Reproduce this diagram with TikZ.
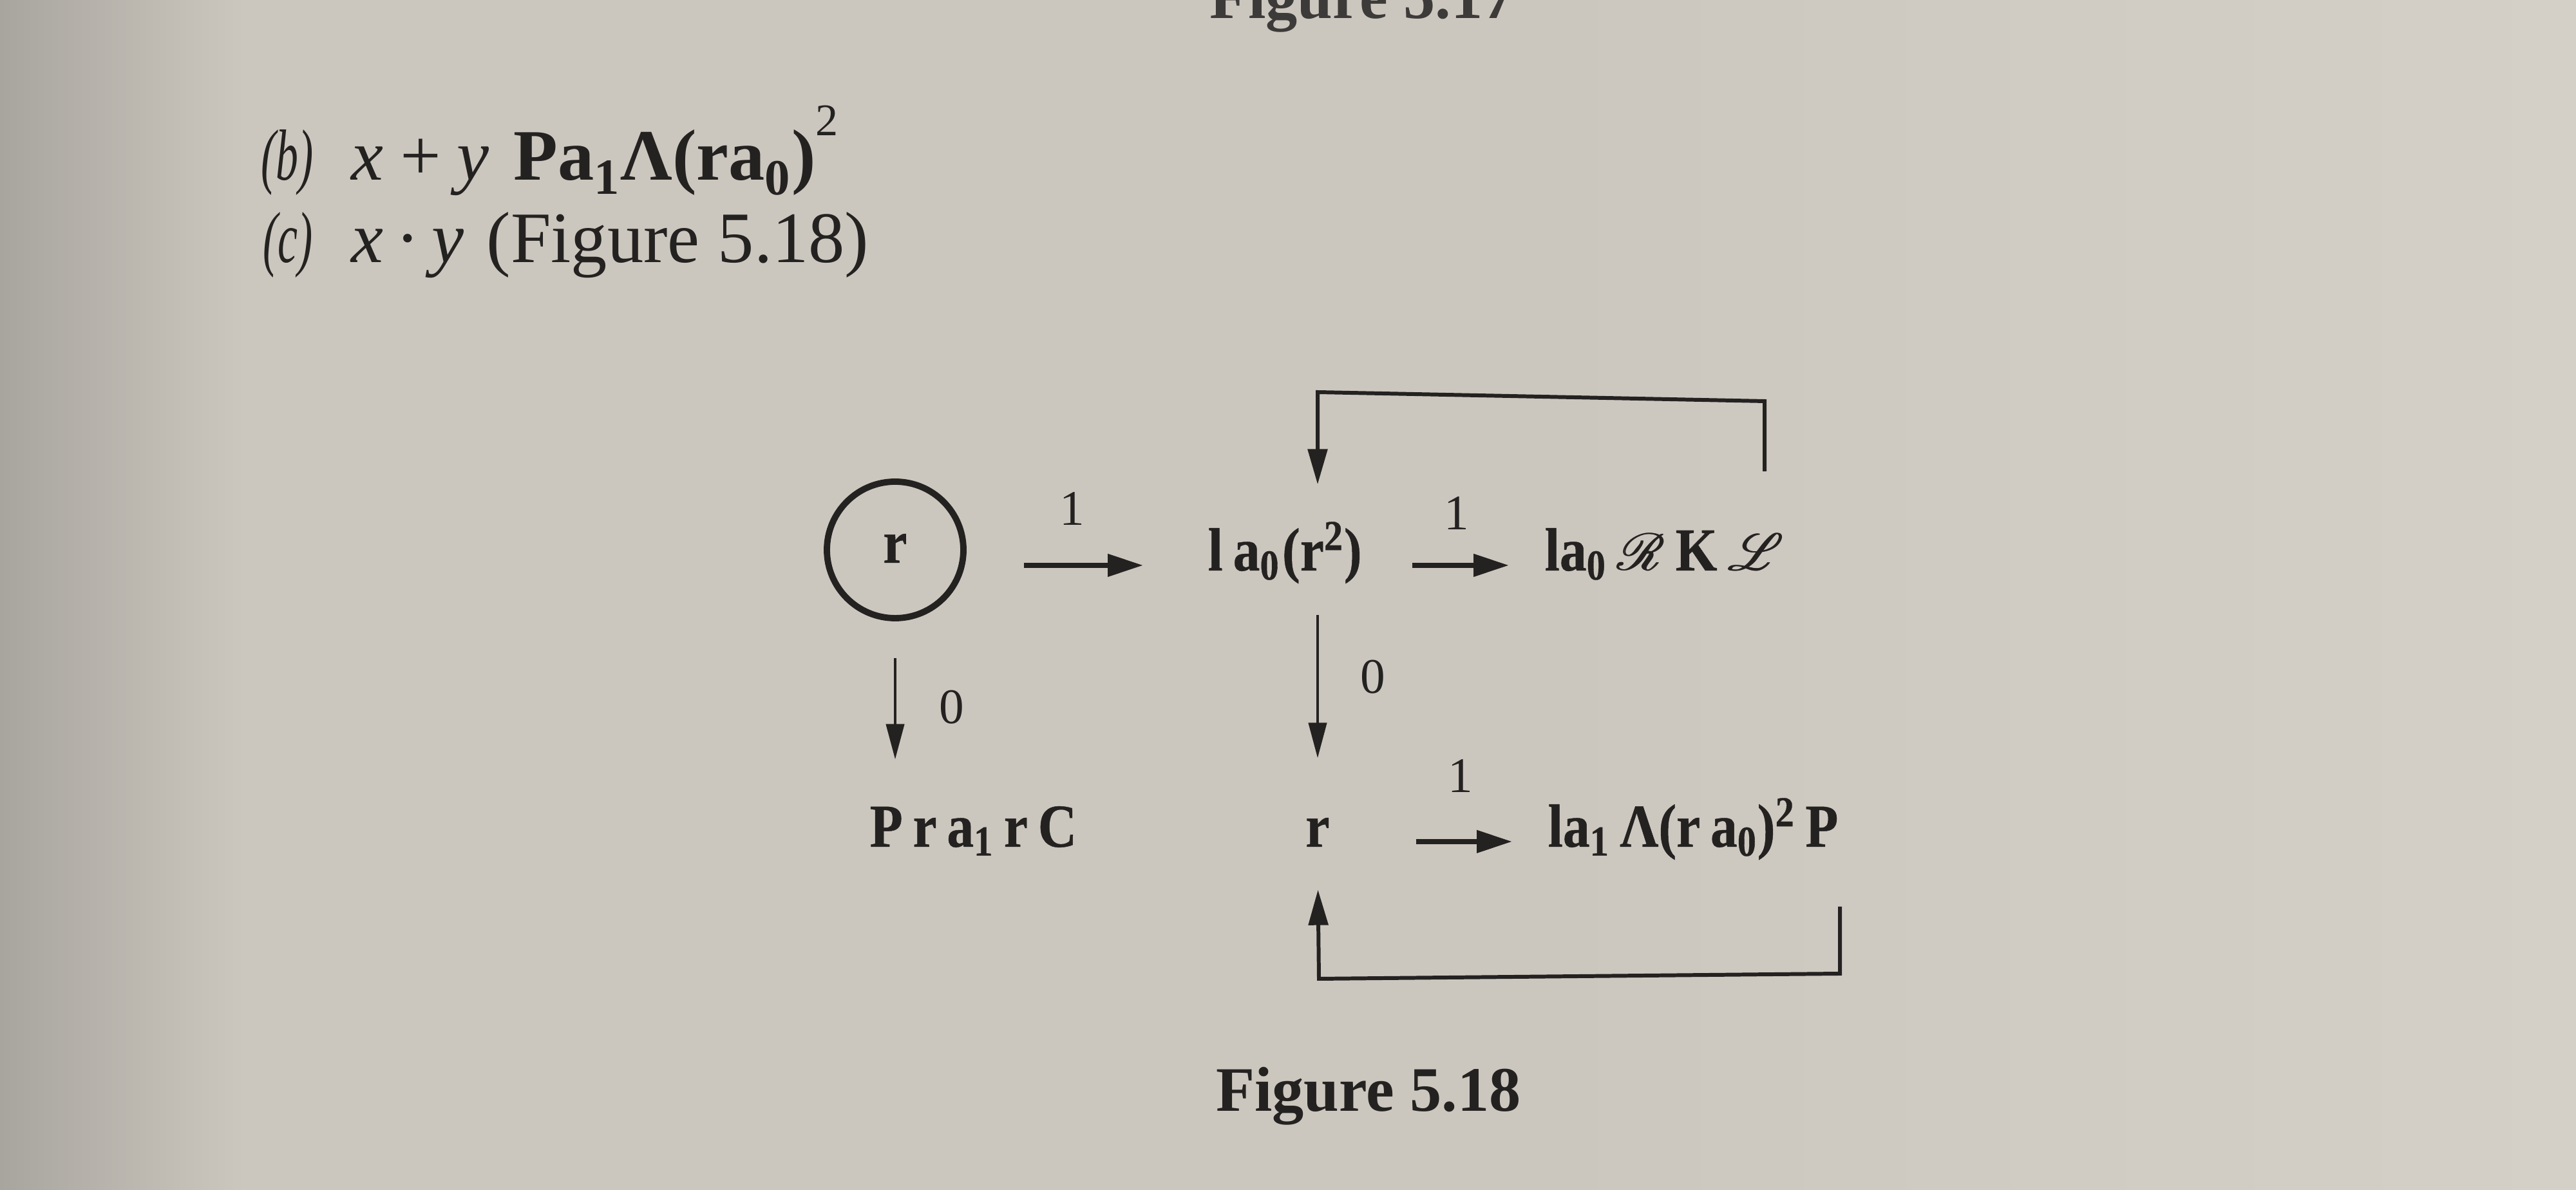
\documentclass[tikz,border=0pt]{standalone}
\usepackage{fontspec}
\setmainfont{Liberation Serif}
\newfontfamily\dgfont{Liberation Serif}[BoldFeatures={FakeStretch=0.88,FakeBold=0.5}]
\usepackage{mathrsfs}
\usepackage{graphicx}
\usetikzlibrary{arrows.meta,calc}
\definecolor{ink}{RGB}{36,34,33}
\definecolor{paper}{RGB}{204,199,190}
\definecolor{paperL}{RGB}{212,208,200}
\definecolor{paperD}{RGB}{168,165,159}
\newcommand{\fbsym}[1]{\rlap{$#1$}\kern0.6pt$#1$}
\begin{document}
\begin{tikzpicture}[x=1cm,y=1cm,
  txt/.style={inner sep=0pt, text=ink, font=\dgfont\fontsize{27}{30}\selectfont\bfseries, text height=0.55cm, text depth=0.15cm},
  lbl/.style={inner sep=0pt, text=ink, font=\fontsize{22}{26}\selectfont},
  toptxt/.style={inner sep=0pt, anchor=base west, text=ink, font=\fontsize{32}{36}\selectfont},
  harrow/.style={draw=ink, line width=2.1pt, -{Triangle[length=0.55cm,width=0.34cm]}},
  varrow/.style={draw=ink, line width=1.3pt, -{Triangle[length=0.55cm,width=0.28cm]}},
  fback/.style={draw=ink, line width=1.7pt, -{Triangle[length=0.55cm,width=0.3cm]}}
]
\clip (0,0) rectangle (40,18.48);
\useasboundingbox (0,0) rectangle (40,18.48);
\fill[paper] (0,0) rectangle (40,18.48);
\shade[left color=paperD, right color=paper] (0,0) rectangle (3.8,18.48);
\shade[left color=paper, right color=paperL] (24,0) rectangle (40,18.48);

% page text above the figure
\node[anchor=base, text=ink!85!paper, font=\fontsize{28}{32}\selectfont\bfseries] (cap0) at (21.15,18.19) {Figure 5.17};
\node[toptxt] (bl) at (4.05,15.68) {\scalebox{0.62}[1]{\itshape (b)}};
\node[toptxt] (bxy) at (5.45,15.68) {\itshape x\,+\,y};
\node[toptxt, font=\fontsize{32}{36}\selectfont\bfseries] (bexpr) at (7.97,15.68) {Pa\textsubscript{1}Λ(ra\textsubscript{0})\raisebox{0.62em}{\mdseries\fontsize{20}{20}\selectfont 2}};
\node[toptxt] (cl) at (4.08,14.40) {\scalebox{0.62}[1]{\itshape (c)}};
\node[toptxt] (cxy) at (5.45,14.40) {{\itshape x}\,·\,{\itshape y}};
\node[toptxt] (cfig) at (7.55,14.40) {(Figure 5.18)};

% diagram nodes
\node[txt, draw=ink, circle, minimum size=2.12cm, line width=2.8pt, text height=0.4cm, text depth=0cm] (circ) at (13.90,9.94) {r};
\node[txt, anchor=base west] (n1) at (18.75,9.62) {l\,a\textsubscript{0}\kern1pt(r\textsuperscript{2})};
\node[txt, anchor=base west] (n2) at (23.98,9.62) {la\textsubscript{0}\,\scalebox{0.92}{\fbsym{\mathscr{R}}}\,K\,\scalebox{0.92}{\fbsym{\mathscr{L}}}};
\node[txt, anchor=base west] (n3) at (13.50,5.33) {P\,r\,a\textsubscript{1}\,r\,C};
\node[txt, anchor=base] (r) at (20.46,5.33) {r};
\node[txt, anchor=base west] (n4) at (24.03,5.33) {la\textsubscript{1}\,Λ(r\,a\textsubscript{0})\textsuperscript{2}\,P};

% labels
\node[lbl] (l1) at (16.65,10.58) {1};
\node[lbl] (l2) at (22.62,10.51) {1};
\node[lbl] (l3) at (22.68,6.43) {1};
\node[lbl] (l4) at (14.78,7.50) {0};
\node[lbl] (l5) at (21.32,7.97) {0};

% horizontal arrows
\draw[harrow, shorten <=0.89cm, shorten >=1.0cm] (circ.east |- n1.mid) -- (n1.mid west);
\draw[harrow, shorten <=1.47cm, shorten >=0.55cm] (r |- n1.mid) -- (n2.mid west);
\draw[harrow, shorten <=1.34cm, shorten >=0.55cm] (r.mid east) -- (n4.mid west);

% vertical arrows
\draw[varrow, shorten <=0.57cm, shorten >=0.80cm] (circ.south) -- (circ.south |- n3.north);
\draw[varrow, shorten <=0.53cm, shorten >=0.82cm] (r |- n1.south) -- (r.north);

% feedback loops
\coordinate (tA) at (27.40,11.16);
\coordinate (tB) at (27.40,12.25);
\coordinate (tC) at (20.46,12.39);
\draw[fback, shorten >=0.78cm] (tA) -- (tB) -- (tC) -- (r |- n1.north);
\coordinate (bA) at (28.57,4.40);
\coordinate (bB) at (28.57,3.36);
\coordinate (bC) at (20.48,3.28);
\draw[fback, shorten >=0.51cm] (bA) -- (bB) -- (bC) -- (r.south);

% caption
\node[anchor=base, text=ink, font=\fontsize{28}{32}\selectfont\bfseries] (cap) at (21.25,1.22) {Figure 5.18};
\end{tikzpicture}
\end{document}
